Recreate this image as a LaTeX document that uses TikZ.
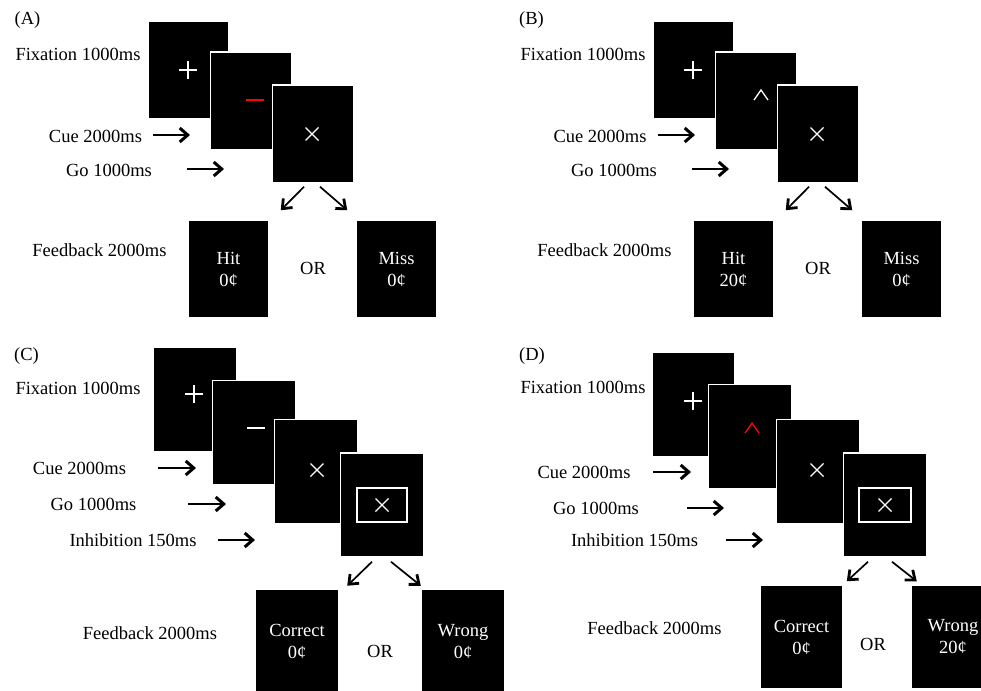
\documentclass[tikz,border=0pt]{standalone}
\usepackage{fontspec}
\setmainfont{Liberation Serif}
\usetikzlibrary{positioning,arrows.meta}
\tikzset{screen/.style={fill=black, draw=white, line width=1.5pt, minimum width=81pt, minimum height=98pt, inner sep=0pt, text=white, align=center}}
\tikzset{bigscreen/.style={screen, minimum width=83pt, minimum height=104pt}}
\tikzset{sym/.style={draw=white, line width=1.3pt}}
\tikzset{harr/.style={draw, -{Straight Barb[length=8pt,width=14pt,line width=3pt]}, line width=2.2pt}}
\tikzset{darr/.style={draw, -{Straight Barb[length=8pt,width=13pt,line width=2.8pt]}, line width=1.7pt}}

\begin{document}
\begin{tikzpicture}[x=1pt, y=-1pt, font=\fontsize{18.5}{22}\selectfont]
    \useasboundingbox (0,0) rectangle (981,690);
    \clip (0,0) rectangle (981,690);

    % (A)
    \node (labA) at (27.5,20) {(A)};
    \node[screen] (fixA) at (188.5,70) {};
    \node[screen] (cueA) at (251,101) {};
    \node[screen] (goA) at (313,134) {};
    \draw[sym] (188,70) +(-9,0) -- +(9,0) +(0,-9) -- +(0,9);
    \draw[red, line width=2pt] (246,100) -- (264,100);
    \draw[sym] (312,134) +(-6.5,-6.5) -- +(6.5,6.5) +(-6.5,6.5) -- +(6.5,-6.5);
    \node (tfixA) at (78,54) {Fixation 1000ms};
    \node (tcueA) at (95.5,136) {Cue 2000ms};
    \node (tgoA) at (109,170) {Go 1000ms};
    \node (tfbA) at (99.5,250) {Feedback 2000ms};
    \coordinate (acueA) at (153,135);
    \coordinate (agoA) at (187,169);
    \draw[harr] (acueA) -- ++(37,0);
    \draw[harr] (agoA) -- ++(37,0);
    \node[screen] (hitA) at (228.5,269) {Hit\\0¢};
    \node (orA) at (313,268) {OR};
    \node[screen] (missA) at (396.5,269) {Miss\\0¢};
    \draw[darr] ([xshift=-9pt,yshift=-3pt]goA.south) -- ([xshift=11pt,yshift=9pt]hitA.north east);
    \draw[darr] ([xshift=7pt,yshift=-3pt]goA.south) -- ([xshift=-8pt,yshift=9pt]missA.north west);

    % (B)
    \node (labB) at (531.5,20) {(B)};
    \node[screen] (fixB) at (693.5,70) {};
    \node[screen] (cueB) at (756,101) {};
    \node[screen] (goB) at (818,134) {};
    \draw[sym] (693,70) +(-9,0) -- +(9,0) +(0,-9) -- +(0,9);
    \draw[sym] (754,100) -- (761,90) -- (768,100);
    \draw[sym] (817,134) +(-6.5,-6.5) -- +(6.5,6.5) +(-6.5,6.5) -- +(6.5,-6.5);
    \node (tfixB) at (583,54) {Fixation 1000ms};
    \node (tcueB) at (600,136) {Cue 2000ms};
    \node (tgoB) at (614,170) {Go 1000ms};
    \node (tfbB) at (604.5,250) {Feedback 2000ms};
    \coordinate (acueB) at (658,135);
    \coordinate (agoB) at (692,169);
    \draw[harr] (acueB) -- ++(37,0);
    \draw[harr] (agoB) -- ++(37,0);
    \node[screen] (hitB) at (733.5,269) {Hit\\20¢};
    \node (orB) at (818,268) {OR};
    \node[screen] (missB) at (901.5,269) {Miss\\0¢};
    \draw[darr] ([xshift=-9pt,yshift=-3pt]goB.south) -- ([xshift=11pt,yshift=9pt]hitB.north east);
    \draw[darr] ([xshift=7pt,yshift=-3pt]goB.south) -- ([xshift=-8pt,yshift=9pt]missB.north west);

    % (C)
    \node (labC) at (26.5,356) {(C)};
    \node[bigscreen] (fixC) at (195,399.5) {};
    \node[bigscreen] (cueC) at (254,432.5) {};
    \node[bigscreen] (goC) at (316,471.5) {};
    \node[bigscreen] (inhC) at (382,505) {};
    \draw[sym] (194,394) +(-9,0) -- +(9,0) +(0,-9) -- +(0,9);
    \draw[sym, line width=2pt] (247,428) -- (265,428);
    \draw[sym] (317,470) +(-6.5,-6.5) -- +(6.5,6.5) +(-6.5,6.5) -- +(6.5,-6.5);
    \draw[sym, line width=1.6pt] (357,488) rectangle (407,522);
    \draw[sym] (382,505) +(-6.5,-6.5) -- +(6.5,6.5) +(-6.5,6.5) -- +(6.5,-6.5);
    \node (tfixC) at (78,388) {Fixation 1000ms};
    \node (tcueC) at (79.5,468) {Cue 2000ms};
    \node (tgoC) at (93.5,504) {Go 1000ms};
    \node (tinhC) at (133,540) {Inhibition 150ms};
    \node (tfbC) at (150,633) {Feedback 2000ms};
    \coordinate (acueC) at (158,468);
    \coordinate (agoC) at (188,504);
    \coordinate (ainhC) at (218,540);
    \draw[harr] (acueC) -- ++(38,0);
    \draw[harr] (agoC) -- ++(38,0);
    \draw[harr] (ainhC) -- ++(37,0);
    \node[bigscreen] (corC) at (297,641.5) {Correct\\0¢};
    \node (orC) at (380,651) {OR};
    \node[bigscreen] (wrongC) at (463,641.5) {Wrong\\0¢};
    \draw[darr] ([xshift=-10pt,yshift=-4pt]inhC.south) -- ([xshift=8pt,yshift=3pt]corC.north east);
    \draw[darr] ([xshift=9pt,yshift=-4pt]inhC.south) -- ([xshift=0pt,yshift=3pt]wrongC.north west);

    % (D)
    \node (labD) at (532,356) {(D)};
    \node[bigscreen] (fixD) at (693.5,404.5) {};
    \node[bigscreen] (cueD) at (750,436.5) {};
    \node[bigscreen] (goD) at (818,471.5) {};
    \node[bigscreen] (inhD) at (885,505) {};
    \draw[sym] (693,401) +(-9,0) -- +(9,0) +(0,-9) -- +(0,9);
    \draw[red, line width=1.3pt] (745,433) -- (752,423) -- (759,433);
    \draw[sym] (817,470) +(-6.5,-6.5) -- +(6.5,6.5) +(-6.5,6.5) -- +(6.5,-6.5);
    \draw[sym, line width=1.6pt] (859,488) rectangle (911,522);
    \draw[sym] (885,505) +(-6.5,-6.5) -- +(6.5,6.5) +(-6.5,6.5) -- +(6.5,-6.5);
    \node (tfixD) at (583,387) {Fixation 1000ms};
    \node (tcueD) at (584,472) {Cue 2000ms};
    \node (tgoD) at (596,508) {Go 1000ms};
    \node (tinhD) at (634.5,540) {Inhibition 150ms};
    \node (tfbD) at (654.5,628) {Feedback 2000ms};
    \coordinate (acueD) at (653,472);
    \coordinate (agoD) at (687,508);
    \coordinate (ainhD) at (726,540);
    \draw[harr] (acueD) -- ++(38,0);
    \draw[harr] (agoD) -- ++(37,0);
    \draw[harr] (ainhD) -- ++(37,0);
    \node[bigscreen] (corD) at (801.5,637) {Correct\\0¢};
    \node (orD) at (873,644) {OR};
    \node[bigscreen] (wrongD) at (953,637) {Wrong\\20¢};
    \draw[darr] ([xshift=-17pt,yshift=-4pt]inhD.south) -- ([xshift=3pt,yshift=3pt]corD.north east);
    \draw[darr] ([xshift=7pt,yshift=-4pt]inhD.south) -- ([xshift=6pt,yshift=3pt]wrongD.north west);
\end{tikzpicture}
\end{document}
